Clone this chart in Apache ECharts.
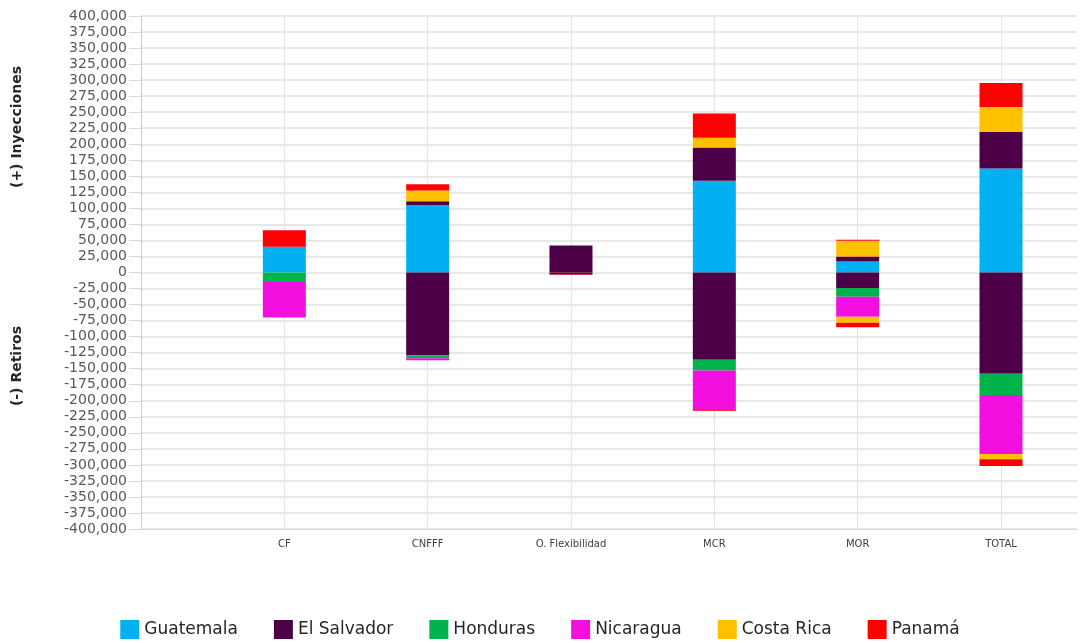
<!DOCTYPE html>
<html>
<head>
<meta charset="utf-8">
<title>Inyecciones y retiros</title>
<script src="https://cdn.jsdelivr.net/npm/echarts@6/dist/echarts.min.js"></script>
<style>
    html, body { margin: 0; padding: 0; background: #fff; }
    #Echarts1 { width: 1080px; height: 643px; }
</style>
</head>
<body>
<div id="Echarts1"></div>
<script>
'use strict';
// categorias del eje x (la primera queda vacia, como en el original)
var categories = ['', 'CF', 'CNFFF', 'O. Flexibilidad', 'MCR', 'MOR', 'TOTAL'];
var countries = ['Guatemala', 'El Salvador', 'Honduras', 'Nicaragua', 'Costa Rica', 'Panamá'];
var colors = ['#00b0f0', '#4d0047', '#00b34a', '#f20fe0', '#ffc000', '#ff0000'];

// (+) inyecciones
var injGuatemala = [null, 40000, 105000, 0, 143000, 17000, 162000];
var injElSalvador = [null, 0, 6000, 42000, 52000, 8000, 57000];
var injHonduras = [null, 0, 0, 0, 0, 0, 0];
var injNicaragua = [null, 0, 0, 0, 0, 0, 0];
var injCostaRica = [null, 0, 17000, 0, 15000, 24500, 39000];
var injPanama = [null, 26000, 9500, 0, 38000, 1500, 37500];

// (-) retiros
var retGuatemala = [null, 0, 0, 0, 0, 0, 0];
var retElSalvador = [null, 0, -129000, -3000, -136000, -24000, -158000];
var retHonduras = [null, -15000, -4700, 0, -17000, -14000, -33000];
var retNicaragua = [null, -55000, -3000, 0, -62000, -31000, -92000];
var retCostaRica = [null, 0, 0, 0, 0, -9500, -8300];
var retPanama = [null, 0, 0, -1000, -1000, -7000, -10400];

// eje y
var yMin = -400000, yMax = 400000, yStep = 25000;

var myChart1 = echarts.init(document.getElementById('Echarts1'));

function loadCharts1() {
    var inj = [injGuatemala, injElSalvador, injHonduras, injNicaragua, injCostaRica, injPanama];
    var ret = [retGuatemala, retElSalvador, retHonduras, retNicaragua, retCostaRica, retPanama];
    var series = [];
    countries.forEach(function (name, k) {
        series.push({
            name: name, type: 'bar', stack: 'total', barWidth: 43,
            itemStyle: { color: colors[k] },
            data: inj[k]
        });
    });
    countries.forEach(function (name, k) {
        series.push({
            name: name, type: 'bar', stack: 'total', barWidth: 43,
            itemStyle: { color: colors[k] },
            data: ret[k]
        });
    });

    var option = {
        animation: false,
        color: colors,
        grid: [
            // barras
            { left: 141, right: 79, top: 16, bottom: 114 },
            // fondo: eje y y lineas horizontales hasta el borde
            { left: 141, right: 3, top: 16, bottom: 114 }
        ],
        legend: {
            data: countries,
            left: 'center',
            top: 615,
            icon: 'rect',
            itemWidth: 19,
            itemHeight: 19,
            itemGap: 36,
            selectedMode: false,
            textStyle: { fontSize: 17, color: '#262626', fontFamily: 'DejaVu Sans' }
        },
        xAxis: [
            {
                gridIndex: 0,
                type: 'category',
                data: categories,
                boundaryGap: false,
                axisTick: { show: false },
                axisLine: { show: false },
                splitLine: { show: true, lineStyle: { color: '#e3e3e3' } },
                axisLabel: {
                    margin: 10,
                    fontSize: 10,
                    color: '#404040',
                    fontFamily: 'DejaVu Sans',
                    interval: 0
                }
            },
            {
                gridIndex: 1,
                type: 'category',
                data: categories,
                axisTick: { show: false },
                axisLabel: { show: false },
                splitLine: { show: false },
                axisLine: { show: true, onZero: false, lineStyle: { color: '#d9d9d9' } }
            }
        ],
        yAxis: [
            {
                gridIndex: 0,
                type: 'value',
                min: yMin,
                max: yMax,
                interval: yStep,
                show: false,
                splitLine: { show: false }
            },
            {
                gridIndex: 1,
                type: 'value',
                min: yMin,
                max: yMax,
                interval: yStep,
                axisLine: { show: true, lineStyle: { color: '#d0d0d0' } },
                axisTick: { show: true, length: 12, lineStyle: { color: '#d9d9d9' } },
                splitLine: { show: true, lineStyle: { color: '#e0e0e0', width: 1.5 } },
                axisLabel: {
                    margin: 14,
                    fontSize: 14,
                    color: '#595959',
                    fontFamily: 'DejaVu Sans',
                    formatter: function (v) {
                        return v.toLocaleString('en-US');
                    }
                }
            }
        ],
        graphic: [
            {
                type: 'text', left: 10, top: 66, rotation: Math.PI / 2,
                style: { text: '(+) Inyecciones', font: 'bold 14px "DejaVu Sans"', fill: '#262626' }
            },
            {
                type: 'text', left: 10, top: 326, rotation: Math.PI / 2,
                style: { text: '(-) Retiros', font: 'bold 14px "DejaVu Sans"', fill: '#262626' }
            }
        ],
        series: series
    };
    myChart1.setOption(option);
}

loadCharts1();
</script>
</body>
</html>
